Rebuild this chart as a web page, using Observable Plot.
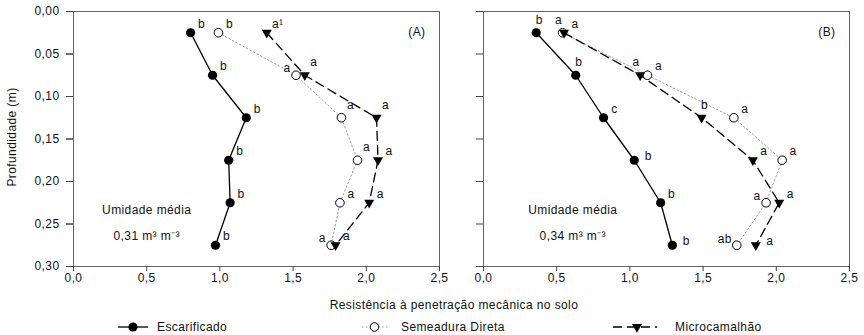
<!DOCTYPE html>
<html>
<head>
<meta charset="utf-8">
<script src="https://cdn.jsdelivr.net/npm/d3@7"></script>
<script src="https://cdn.jsdelivr.net/npm/@observablehq/plot@0.6"></script>
<style>
  body { margin: 0; background: #fff; font-family: "Liberation Sans", Arial, sans-serif; }
  #wrap { position: relative; width: 864px; height: 335px; overflow: hidden; }
  .t { position: absolute; font-size: 12px; letter-spacing: 0.4px; color: #111; white-space: nowrap; line-height: 12px; }
  .sw { position: absolute; }
</style>
</head>
<body>
<div id="wrap"></div>
<script>
// ---------------- data ----------------
const depths = [0.025, 0.075, 0.125, 0.175, 0.225, 0.275];
const panels = ["A", "B"];
const panelTags = ["(A)", "(B)"];
const moistureText = ["0,31 m³ m⁻³", "0,34 m³ m⁻³"];
const seriesNames = ["Escarificado", "Semeadura Direta", "Microcamalhão"];
const xTicks = [0, 0.5, 1.0, 1.5, 2.0, 2.5];
const yTicks = [0, 0.05, 0.10, 0.15, 0.20, 0.25, 0.30];

// Panel A
const escA = [0.80, 0.95, 1.18, 1.06, 1.07, 0.97];
const sdA  = [0.99, 1.52, 1.83, 1.94, 1.82, 1.76];
const mcA  = [1.32, 1.58, 2.07, 2.08, 2.02, 1.79];
// Panel B
const escB = [0.36, 0.63, 0.82, 1.03, 1.21, 1.29];
const sdB  = [0.54, 1.12, 1.71, 2.04, 1.93, 1.73];
const mcB  = [0.55, 1.07, 1.49, 1.84, 2.02, 1.86];

// significance letters
const escALetters = ["b", "b", "b", "b", "b", "b"];
const sdALetters  = ["b", "a", "a", "a", "a", "a"];
const mcALetters  = ["a¹", "a", "a", "a", "a", "a"];
const escBLetters = ["b", "b", "c", "b", "b", "b"];
const sdBLetters  = ["a", "a", "a", "a", "a", "ab"];
const mcBLetters  = ["a", "a", "b", "a", "a", "a"];

// side of the point where each letter sits
const escASide = ["ne", "ne", "ne", "ne", "ne", "ne"];
const sdASide  = ["ne", "nw", "nne", "nne", "ne", "nw"];
const mcASide  = ["ne", "nne", "nne", "ne", "ne", "ne"];
const escBSide = ["n", "n", "ne", "e", "ne", "e"];
const sdBSide  = ["nl", "ne", "ne", "ne", "nw", "w"];
const mcBSide  = ["ne", "nl", "n", "ne", "ne", "e"];

// ---------------- table ----------------
const sources = [
  {panel: "A", series: seriesNames[0], values: escA, letters: escALetters, side: escASide},
  {panel: "A", series: seriesNames[1], values: sdA,  letters: sdALetters,  side: sdASide},
  {panel: "A", series: seriesNames[2], values: mcA,  letters: mcALetters,  side: mcASide},
  {panel: "B", series: seriesNames[0], values: escB, letters: escBLetters, side: escBSide},
  {panel: "B", series: seriesNames[1], values: sdB,  letters: sdBLetters,  side: sdBSide},
  {panel: "B", series: seriesNames[2], values: mcB,  letters: mcBLetters,  side: mcBSide}
];
const rows = sources.flatMap(s => depths.map((d, i) => ({
  panel: s.panel, series: s.series, depth: d, value: s.values[i], label: s.letters[i], side: s.side[i]
})));
const bySeries = name => rows.filter(r => r.series === name);

const offsets = {
  ne: [11, -9], nne: [9, -13], n: [3, -13], nl: [-4, -13],
  nw: [-9, -7], e: [14, -4], w: [-12, -6]
};

const comma = f => v => d3.format(f)(v).replace(".", ",");
const FONT = "'Liberation Sans', Arial, sans-serif";
const AX = "#444";
const TRI_R = 4.8;

const letterMarks = Object.entries(offsets).map(([k, [dx, dy]]) =>
  Plot.text(rows.filter(r => r.side === k), {
    x: "value", y: "depth", fx: "panel", text: "label", dx, dy, fill: "#111", fontSize: 12
  })
);

const chart = Plot.plot({
  width: 864,
  height: 290,
  marginLeft: 73,
  marginRight: 15,
  marginTop: 11,
  marginBottom: 24,
  style: {fontFamily: FONT, fontSize: "12px", color: "#111", background: "#fff", letterSpacing: "0.4px", overflow: "visible"},
  fx: {domain: panels, paddingInner: 44 / 410, paddingOuter: 0, round: false, axis: null, label: null},
  x: {domain: [0, 2.5]},
  y: {domain: [0, 0.3], reverse: true},
  marks: [
    Plot.frame({stroke: "#666", strokeWidth: 1}),
    Plot.axisY({ticks: yTicks, tickFormat: comma(".2f"), tickSize: 7, tickPadding: 7, stroke: AX, label: null}),
    Plot.axisY({ticks: yTicks, tickFormat: () => "", tickSize: 7, stroke: AX, label: null, facetAnchor: null}),
    Plot.axisX({ticks: xTicks, tickFormat: comma(".1f"), tickSize: 5, tickPadding: 2, stroke: AX, label: null}),
    // lines
    Plot.line(bySeries(seriesNames[1]), {x: "value", y: "depth", fx: "panel", stroke: "#9a9a9a", strokeWidth: 1, strokeDasharray: "1.5,2.5"}),
    Plot.line(bySeries(seriesNames[0]), {x: "value", y: "depth", fx: "panel", stroke: "#000", strokeWidth: 1.3}),
    Plot.line(bySeries(seriesNames[2]), {x: "value", y: "depth", fx: "panel", stroke: "#000", strokeWidth: 1.3, strokeDasharray: "9,5"}),
    // markers
    Plot.dot(bySeries(seriesNames[1]), {x: "value", y: "depth", fx: "panel", r: 4.3, fill: "#fff", stroke: "#000", strokeWidth: 1}),
    Plot.dot(bySeries(seriesNames[0]), {x: "value", y: "depth", fx: "panel", r: 4.6, fill: "#000", stroke: "none"}),
    Plot.dot(bySeries(seriesNames[2]), {x: "value", y: "depth", fx: "panel", symbol: "triangle2", rotate: 180, r: TRI_R, fill: "#000", stroke: "none"}),
    // letters
    ...letterMarks,
    // annotations
    Plot.text(panels, {fx: d => d, text: (d, i) => panelTags[i], frameAnchor: "top-right", dx: -14, dy: 16, textAnchor: "end", fill: "#111", fontSize: 12}),
    Plot.text(panels, {fx: d => d, x: d => d === "A" ? 0.50 : 0.61, y: 0.234, text: () => "Umidade média", fill: "#111", fontSize: 12}),
    Plot.text(panels, {fx: d => d, x: d => d === "A" ? 0.50 : 0.61, y: 0.264, text: (d, i) => moistureText[i], fill: "#111", fontSize: 12})
  ]
});

const wrap = document.getElementById("wrap");
chart.style.position = "absolute";
chart.style.left = "0px";
chart.style.top = "0px";
wrap.appendChild(chart);

function addText(txt, css) {
  const el = document.createElement("div");
  el.className = "t";
  el.textContent = txt;
  Object.assign(el.style, css);
  wrap.appendChild(el);
  return el;
}
// axis titles
addText("Resistência à penetração mecânica no solo", {left: "454px", top: "299px", transform: "translateX(-50%)"});
addText("Profundidade (m)", {left: "12px", top: "137px", transform: "translate(-50%,-50%) rotate(-90deg)"});

// legend
const NS = "http://www.w3.org/2000/svg";
function swatch(left, w, lineAttrs, symbolSvg) {
  const s = document.createElementNS(NS, "svg");
  s.setAttribute("width", w); s.setAttribute("height", 14);
  s.setAttribute("class", "sw");
  s.style.left = left + "px"; s.style.top = "320px";
  s.innerHTML = `<line x1="0" x2="${w}" y1="7" y2="7" ${lineAttrs}/>` + symbolSvg;
  wrap.appendChild(s);
}
const triPath = d3.symbol(d3.symbolTriangle2, Math.PI * TRI_R * TRI_R)();
swatch(118, 30, `stroke="#000" stroke-width="1.3"`, `<circle cx="15" cy="7" r="4.6" fill="#000"/>`);
swatch(362, 27, `stroke="#9a9a9a" stroke-width="1" stroke-dasharray="1.5,2.5"`, `<circle cx="12.5" cy="7" r="4.3" fill="#fff" stroke="#000"/>`);
swatch(612, 45, `stroke="#000" stroke-width="1.3" stroke-dasharray="9,5" stroke-dashoffset="-1"`, `<path d="${triPath}" transform="translate(25,7) rotate(180)" fill="#000"/>`);
addText(seriesNames[0], {left: "157px", top: "321px"});
addText(seriesNames[1], {left: "401px", top: "321px"});
addText(seriesNames[2], {left: "675px", top: "321px"});
</script>
</body>
</html>
